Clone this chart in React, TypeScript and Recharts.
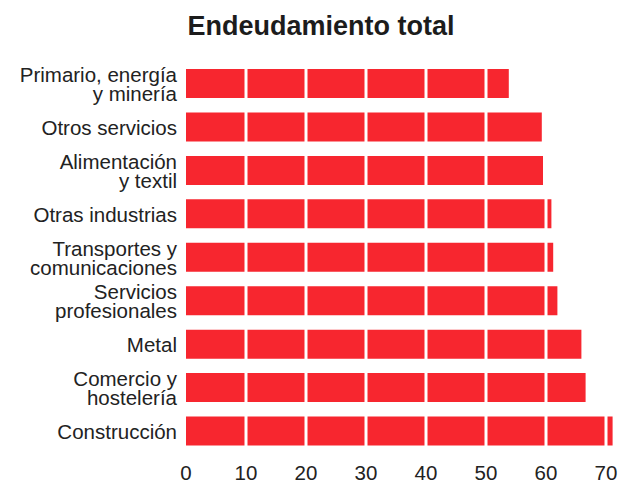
import { BarChart, Bar, XAxis, YAxis, ReferenceLine } from "recharts";

const sectors = [
  "Primario, energía\ny minería",
  "Otros servicios",
  "Alimentación\ny textil",
  "Otras industrias",
  "Transportes y\ncomunicaciones",
  "Servicios\nprofesionales",
  "Metal",
  "Comercio y\nhostelería",
  "Construcción",
];
const debt = [53.8, 59.3, 59.5, 60.9, 61.2, 61.9, 65.9, 66.6, 71.1];
const xTicks = [0, 10, 20, 30, 40, 50, 60, 70];

const data = sectors.map((name, i) => ({ name, value: debt[i] }));

const FONT = '"Liberation Sans", Arial, Helvetica, sans-serif';

// two-line category labels, tightly stacked like the original
const SectorTick = (props: any) => {
  const { x, y, payload } = props;
  const lines = String(payload.value).split("\n");
  const lineH = 19;
  const startY = y - ((lines.length - 1) * lineH) / 2;
  return (
    <text x={x - 1} y={startY} textAnchor="end" fill="#222" fontSize={20.5} fontFamily={FONT}>
      {lines.map((l, i) => (
        <tspan key={i} x={x - 1} y={startY + i * lineH} dominantBaseline="central">
          {l}
        </tspan>
      ))}
    </text>
  );
};

const App = () => {
  return (
    <div style={{ position: "absolute", left: 0, top: 0, width: 621, height: 487 }}>
      <div
        style={{
          position: "absolute",
          top: 13,
          left: 0,
          width: 642,
          textAlign: "center",
          fontFamily: FONT,
          fontWeight: "bold",
          fontSize: 27,
          lineHeight: 1,
          color: "#1c1c1c",
        }}
      >
        Endeudamiento total
      </div>
      <BarChart
        width={621}
        height={487}
        data={data}
        layout="vertical"
        margin={{ top: 62, right: 3, left: 0, bottom: 0 }}
      >
        <XAxis
          type="number"
          domain={[0, 72]}
          ticks={xTicks}
          axisLine={false}
          tickLine={false}
          tickMargin={6}
          height={34}
          tick={{ fontSize: 20.5, fill: "#222", fontFamily: FONT }}
        />
        <YAxis
          type="category"
          dataKey="name"
          width={186}
          axisLine={false}
          tickLine={false}
          interval={0}
          tick={<SectorTick />}
        />
        <Bar dataKey="value" fill="#f7262f" barSize={29} isAnimationActive={false} />
        {xTicks.slice(1).map((t) => (
          <ReferenceLine key={t} x={t} stroke="#ffffff" strokeWidth={3} />
        ))}
      </BarChart>
    </div>
  );
};

export default App;
